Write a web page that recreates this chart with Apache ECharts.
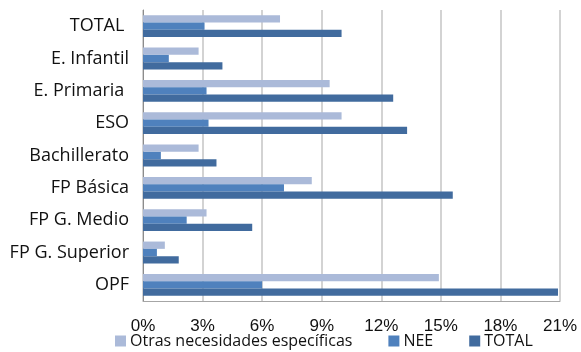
<!DOCTYPE html>
<html>
<head>
<meta charset="utf-8">
<script src="https://cdn.jsdelivr.net/npm/echarts@6/dist/echarts.min.js"></script>
<style>
  html, body { margin: 0; padding: 0; background: #fff; }
  #chart { width: 581px; height: 352px; }
</style>
</head>
<body>
<div id="chart"></div>
<script>
// datos (en %)
const categorias = ['TOTAL ', 'E. Infantil', 'E. Primaria ', 'ESO', 'Bachillerato', 'FP Básica', 'FP G. Medio', 'FP G. Superior', 'OPF']
const otras = [6.9, 2.8, 9.4, 10.0, 2.8, 8.5, 3.2, 1.1, 14.9]
const nee = [3.1, 1.3, 3.2, 3.3, 0.9, 7.1, 2.2, 0.7, 6.0]
const total = [10.0, 4.0, 12.6, 13.3, 3.7, 15.6, 5.5, 1.8, 20.9]
const nombres = ['Otras necesidades específicas', 'NEE', 'TOTAL']
const colores = ['#abbad9', '#4f81bd', '#416b9e']

const chart = echarts.init(document.getElementById('chart'))

function serie(i, datos) {
  return {
    name: nombres[i], type: 'bar', data: datos,
    barWidth: 7.3, barGap: '0%',
    itemStyle: { color: colores[i] },
    emphasis: { disabled: true }
  }
}

const option = {
  animation: false,
  textStyle: { fontFamily: 'Open Sans' },
  grid: { left: 143, right: 21, top: 10, bottom: 51 },
  legend: {
    data: nombres,
    left: 115, top: 333, padding: 0,
    itemWidth: 11, itemHeight: 11, itemGap: 36,
    textStyle: { fontFamily: 'Open Sans', fontSize: 16, color: '#111', padding: [0, 0, 0, -1] },
    icon: 'rect'
  },
  xAxis: {
    type: 'value', min: 0, max: 21, interval: 3,
    axisLabel: { formatter: '{value}%', fontFamily: 'Liberation Sans', fontSize: 17, color: '#111', margin: 17 },
    axisLine: { show: true, lineStyle: { color: '#a6a6a6', width: 1 } },
    axisTick: { show: false },
    splitLine: { show: true, lineStyle: { color: '#c4c4c4', width: 1.5 } }
  },
  yAxis: {
    type: 'category', data: categorias, inverse: true,
    axisLine: { show: true, lineStyle: { color: '#8c8c8c', width: 1 } },
    axisTick: { show: false },
    axisLabel: { fontFamily: 'Open Sans', fontSize: 18, color: '#111', margin: 14 }
  },
  series: [
    serie(0, otras),
    serie(1, nee),
    serie(2, total)
  ]
}

chart.setOption(option)
</script>
</body>
</html>
